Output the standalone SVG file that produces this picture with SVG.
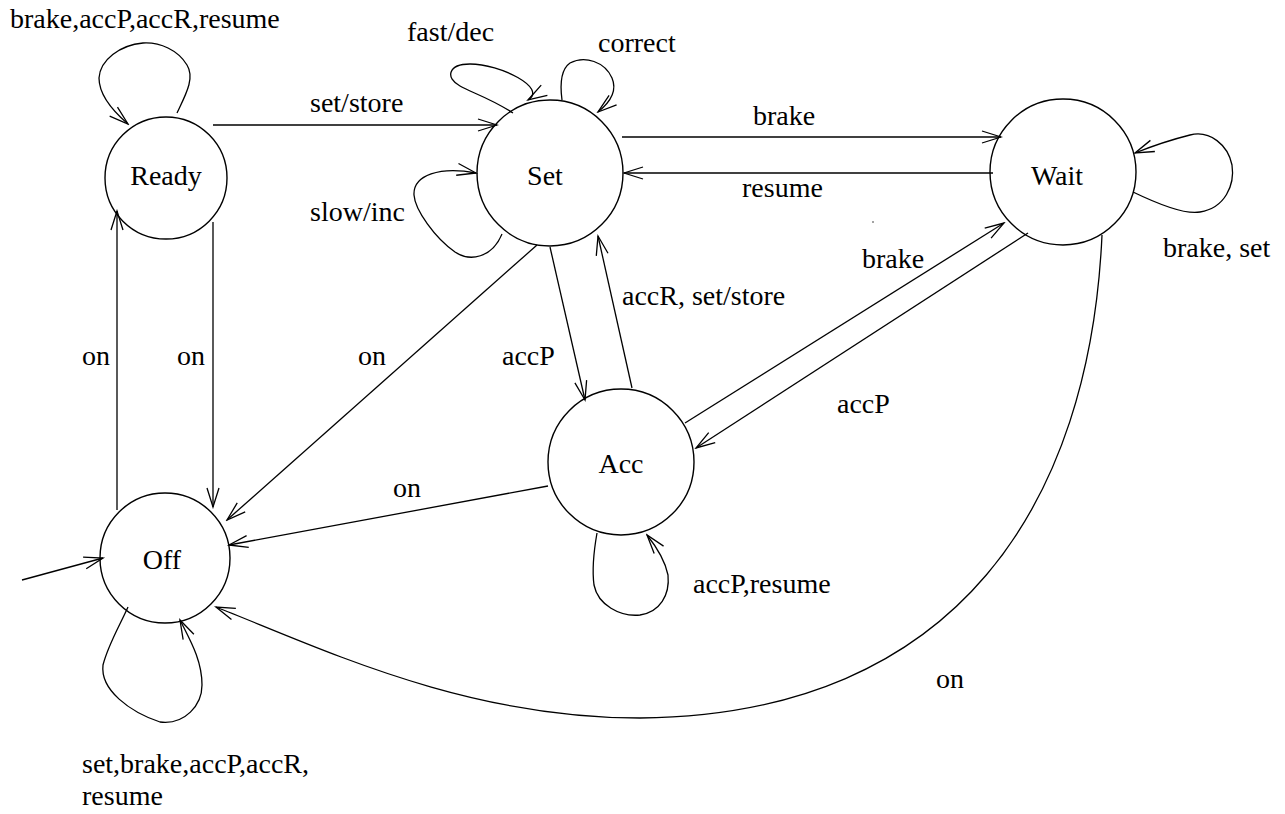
<svg xmlns="http://www.w3.org/2000/svg" width="1285" height="814" viewBox="0 0 1285 814">
<style>
text{font-family:'Liberation Serif','DejaVu Serif',serif;font-size:28px;fill:#000}
.n circle{fill:none;stroke:#000;stroke-width:1.4}
.n text{text-anchor:middle}
#edges path{fill:none;stroke:#000;stroke-width:1.3;marker-end:url(#ah)}
</style>
<defs>
<marker id="ah" markerUnits="userSpaceOnUse" viewBox="-22 -10 24 20" markerWidth="24" markerHeight="20" refX="0" refY="0" orient="auto">
<path d="M-19,-6 L0,0 L-19,6" fill="none" stroke="#000" stroke-width="1.3"/>
</marker>
</defs>
<rect width="1285" height="814" fill="#fff"/>
<g id="Ready" class="n"><circle cx="166" cy="178" r="61"/><text x="166" y="185" font-family="Liberation Serif, serif">Ready</text></g>
<g id="Set" class="n"><circle cx="550" cy="173" r="73"/><text x="545" y="185" font-family="Liberation Serif, serif">Set</text></g>
<g id="Wait" class="n"><circle cx="1063" cy="172" r="73"/><text x="1057" y="185" font-family="Liberation Serif, serif">Wait</text></g>
<g id="Acc" class="n"><circle cx="621" cy="462" r="73"/><text x="621" y="473" font-family="Liberation Serif, serif">Acc</text></g>
<g id="Off" class="n"><circle cx="165" cy="558" r="65"/><text x="162" y="569" font-family="Liberation Serif, serif">Off</text></g>
<g id="edges">
<path d="M22,580 L103,558"/>
<path d="M117,510 L117,211"/>
<path d="M213,222 L213,507"/>
<path d="M213,125 L497,125"/>
<path d="M622,137 L1001,137"/>
<path d="M993,173 L624,173"/>
<path d="M550,247 L585,400"/>
<path d="M632,388 L598,236"/>
<path d="M685,423 L1004,223"/>
<path d="M1028,233 L696,448"/>
<path d="M537,245 L227,520"/>
<path d="M548,486 L229,545"/>
<path d="M1102,235 C1090,500 960,715 640,718 C465,718 325,650 216,607"/>
<path d="M177,113 C186,94 195,78 187,65 C178,50 160,42 143,43 C120,45 100,60 99,78 C99,95 114,112 128,124"/>
<path d="M513,113 C490,98 470,92 460,86 C445,78 448,64 470,64 C500,64 548,88 528,100"/>
<path d="M562,100 C560,85 560,70 570,63 C585,55 605,62 612,78 C618,92 608,104 598,112"/>
<path d="M502,234 C492,258 470,262 455,252 C435,238 415,210 414,195 C413,175 440,166 476,173"/>
<path d="M1133,192 C1160,205 1185,215 1200,212 C1225,208 1235,185 1232,165 C1228,145 1210,130 1190,135 C1170,140 1150,147 1135,153"/>
<path d="M597,533 C594,550 592,570 594,585 C598,605 620,617 640,615 C660,612 670,595 668,575 C665,560 655,545 647,535"/>
<path d="M128,607 C120,625 108,645 103,665 C100,690 130,712 160,722 C185,725 202,705 202,685 C202,660 190,640 180,620"/>
</g>
<g id="labels" font-family="Liberation Serif, serif">
<text x="10" y="28">brake,accP,accR,resume</text>
<text x="310" y="112">set/store</text>
<text x="407" y="41">fast/dec</text>
<text x="598" y="52">correct</text>
<text x="310" y="221">slow/inc</text>
<text x="753" y="125">brake</text>
<text x="742" y="197">resume</text>
<text x="622" y="305">accR, set/store</text>
<text x="502" y="365">accP</text>
<text x="862" y="268">brake</text>
<text x="837" y="413">accP</text>
<text x="1163" y="257">brake, set</text>
<text x="82" y="365">on</text>
<text x="177" y="365">on</text>
<text x="358" y="365">on</text>
<text x="393" y="497">on</text>
<text x="936" y="688">on</text>
<text x="693" y="593">accP,resume</text>
<text x="82" y="773">set,brake,accP,accR,</text>
<text x="82" y="805">resume</text>
</g>
<circle cx="873" cy="222" r="0.7" fill="#000"/>
</svg>
